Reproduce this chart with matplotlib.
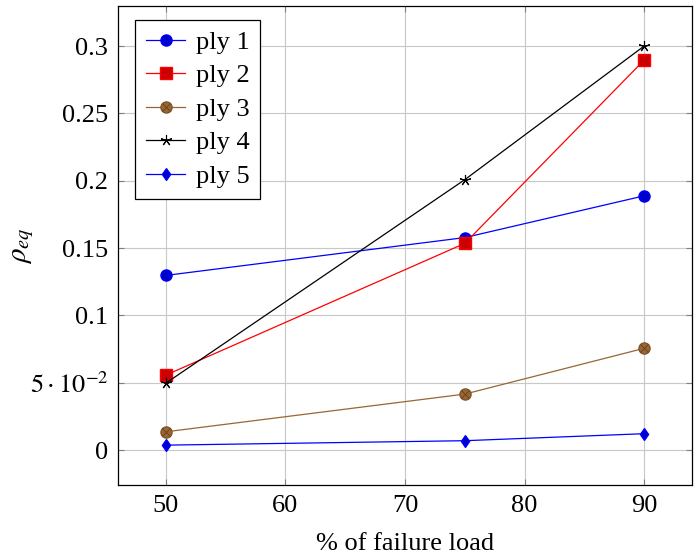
import matplotlib
matplotlib.use("Agg")
import matplotlib.pyplot as plt
import numpy as np

plt.rcParams['font.family'] = ['Liberation Serif', 'DejaVu Serif']
plt.rcParams['mathtext.fontset'] = 'stix'
plt.rcParams['font.size'] = 19

load = [50, 75, 90]
ply1 = [0.1297, 0.1578, 0.1888]
ply2 = [0.0557, 0.1535, 0.2896]
ply3 = [0.0136, 0.0416, 0.0756]
ply4 = [0.0497, 0.2008, 0.3]
ply5 = [0.0037, 0.0070, 0.0122]

yticks = [0, 0.05, 0.1, 0.15, 0.2, 0.25, 0.3]
ylabels = ['0', r'$5\cdot10^{-2}$', '0.1', '0.15', '0.2', '0.25', '0.3']
xticks = [50, 60, 70, 80, 90]

# pgfplots-like diamond, a bit wider than matplotlib's 'd'
diamond = [(0, 1.3), (0.9, 0), (0, -1.3), (-0.9, 0), (0, 1.3)]

fig = plt.figure(figsize=(7, 5.58), dpi=100)
ax = fig.add_axes([0.1686, 0.1308, 0.82, 0.8584])

ax.plot(load, ply1, color='blue', lw=0.9, marker='o', ms=8,
        mfc=(0, 0, 0.8), mec='blue', label='ply 1', zorder=3)
ax.plot(load, ply2, color='red', lw=0.9, marker='s', ms=8,
        mfc=(0.8, 0, 0), mec='red', label='ply 2', zorder=3)
# otimes* : filled circle with a cross over it
l3, = ax.plot(load, ply3, color=(0.6, 0.4, 0.2), lw=0.9, marker='o', ms=8,
              mfc=(0.6, 0.4, 0.2), mec=(0.5, 0.33, 0.16), zorder=3)
x3, = ax.plot(load, ply3, ls='none', marker='x', ms=5.5, mew=0.6,
              mec=(0.4, 0.25, 0.1), zorder=4)
ax.plot(load, ply4, color='black', lw=0.9, marker=(5, 2, 0), ms=8,
        mew=0.8, label='ply 4', zorder=3)
ax.plot(load, ply5, color='blue', lw=0.9, marker=diamond, ms=8.5,
        mfc=(0, 0, 0.8), mec='blue', label='ply 5', zorder=3)

ax.set_xlim(46, 94)
ax.set_ylim(-0.0259, 0.3297)
ax.set_xticks(xticks)
ax.set_yticks(yticks)
ax.set_yticklabels(ylabels)
ax.grid(True, color='#c8c8c8', lw=0.8)
ax.set_axisbelow(True)
ax.tick_params(direction='in', top=True, right=True, color='#7f7f7f',
               length=4, pad=7)
for s in ax.spines.values():
    s.set_linewidth(0.9)

ax.set_xlabel('% of failure load', labelpad=12)
ax.set_ylabel(r'$\rho_{eq}$', fontsize=21, va='center')
ax.yaxis.set_label_coords(-0.166, 0.5)

handles, labels = ax.get_legend_handles_labels()
handles.insert(2, (l3, x3))
labels.insert(2, 'ply 3')
leg = ax.legend(handles, labels, loc='upper left', bbox_to_anchor=(0.03, 0.971),
                borderaxespad=0, fancybox=False, edgecolor='black', framealpha=1,
                handlelength=1.5, handletextpad=0.4, labelspacing=0.38,
                borderpad=0.4)
leg.get_frame().set_linewidth(0.9)

fig.savefig('out.png', dpi=100)
